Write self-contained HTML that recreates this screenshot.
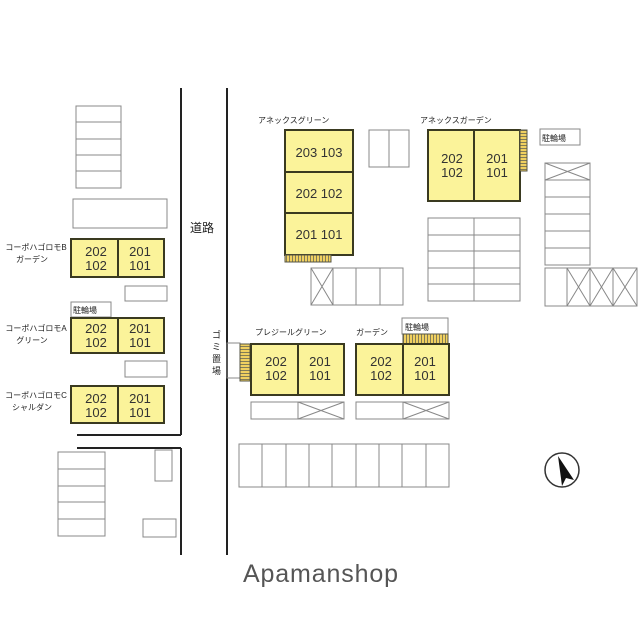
<!DOCTYPE html>
<html><head><meta charset="utf-8"><style>
body{margin:0;background:#fff}
svg{display:block}
text{font-family:"Liberation Sans","Noto Sans CJK JP",sans-serif}
.j{font-size:8px;fill:#222}
.n{font-size:13px;fill:#333}
.b{fill:#fbf39a;stroke:#3a3a20;stroke-width:2}
.g{fill:none;stroke:#888;stroke-width:1}
</style></head><body>
<svg width="640" height="640" viewBox="0 0 640 640" xmlns="http://www.w3.org/2000/svg">
<defs>
<pattern id="hv" width="3" height="3" patternUnits="userSpaceOnUse"><rect width="3" height="3" fill="#f0d060"/><line x1="1.5" y1="0" x2="1.5" y2="3" stroke="#665" stroke-width="0.8"/></pattern>
<pattern id="hh" width="3" height="3" patternUnits="userSpaceOnUse"><rect width="3" height="3" fill="#f0d060"/><line x1="0" y1="1.5" x2="3" y2="1.5" stroke="#665" stroke-width="0.8"/></pattern>
</defs>
<rect width="640" height="640" fill="#fff"/>
<g stroke="#222" stroke-width="2">
<line x1="181" y1="88" x2="181" y2="435"/>
<line x1="181" y1="448" x2="181" y2="555"/>
<line x1="77" y1="435" x2="181" y2="435"/>
<line x1="77" y1="448" x2="181" y2="448"/>
<line x1="227" y1="88" x2="227" y2="555"/>
</g>
<text x="190" y="232" style="font-size:12px;fill:#222">道路</text>
<g style="font-size:9px;fill:#222"><text x="212" y="338">ゴ</text><text x="212" y="350">ミ</text><text x="212" y="362">置</text><text x="212" y="374">場</text></g>
<g class="g"><rect x="76" y="106" width="45" height="82"/>
<line x1="76" y1="122" x2="121" y2="122"/><line x1="76" y1="139" x2="121" y2="139"/><line x1="76" y1="155" x2="121" y2="155"/><line x1="76" y1="171" x2="121" y2="171"/>
<rect x="73" y="199" width="94" height="29"/>
<rect x="125" y="286" width="42" height="15"/>
<rect x="71" y="302" width="40" height="15"/>
<rect x="125" y="361" width="42" height="16"/>
<rect x="58" y="452" width="47" height="84"/>
<line x1="58" y1="469" x2="105" y2="469"/><line x1="58" y1="486" x2="105" y2="486"/><line x1="58" y1="502" x2="105" y2="502"/><line x1="58" y1="519" x2="105" y2="519"/>
<rect x="155" y="450" width="17" height="31"/>
<rect x="143" y="519" width="33" height="18"/>
</g>
<text x="73" y="313" class="j">駐輪場</text>
<rect class="b" x="71" y="239" width="93" height="38"/><line x1="118" y1="239" x2="118" y2="277" stroke="#3a3a20" stroke-width="2"/>
<rect class="b" x="71" y="318" width="93" height="35"/><line x1="118" y1="318" x2="118" y2="353" stroke="#3a3a20" stroke-width="2"/>
<rect class="b" x="71" y="386" width="93" height="37"/><line x1="118" y1="386" x2="118" y2="423" stroke="#3a3a20" stroke-width="2"/>
<g class="n" text-anchor="middle">
<text x="96" y="256">202</text><text x="96" y="270">102</text><text x="140" y="256">201</text><text x="140" y="270">101</text>
<text x="96" y="333">202</text><text x="96" y="347">102</text><text x="140" y="333">201</text><text x="140" y="347">101</text>
<text x="96" y="403">202</text><text x="96" y="417">102</text><text x="140" y="403">201</text><text x="140" y="417">101</text>
</g>
<g class="j" text-anchor="middle">
<text x="36" y="250">コーポハゴロモB</text><text x="32" y="262">ガーデン</text>
<text x="36" y="331">コーポハゴロモA</text><text x="32" y="343">グリーン</text>
<text x="36" y="398">コーポハゴロモC</text><text x="32" y="410">シャルダン</text>
</g>
<text x="258" y="123" class="j">アネックスグリーン</text>
<rect class="b" x="285" y="130" width="68" height="125"/>
<line x1="285" y1="172" x2="353" y2="172" stroke="#3a3a20" stroke-width="2"/><line x1="285" y1="213" x2="353" y2="213" stroke="#3a3a20" stroke-width="2"/>
<rect x="285" y="255" width="46" height="7" fill="url(#hv)" stroke="#554" stroke-width="1"/>
<g class="n" text-anchor="middle"><text x="319" y="157">203 103</text><text x="319" y="198">202 102</text><text x="319" y="239">201 101</text></g>
<g class="g"><rect x="369" y="130" width="40" height="37"/><line x1="389" y1="130" x2="389" y2="167"/>
<rect x="311" y="268" width="92" height="37"/><line x1="333" y1="268" x2="333" y2="305"/><line x1="356" y1="268" x2="356" y2="305"/><line x1="380" y1="268" x2="380" y2="305"/>
<path d="M311 268L333 305M333 268L311 305"/>
</g>
<text x="420" y="123" class="j">アネックスガーデン</text>
<rect class="b" x="428" y="130" width="92" height="71"/><line x1="474" y1="130" x2="474" y2="201" stroke="#3a3a20" stroke-width="2"/>
<rect x="520" y="130" width="7" height="41" fill="url(#hh)" stroke="#554" stroke-width="1"/>
<g class="n" text-anchor="middle"><text x="452" y="163">202</text><text x="452" y="177">102</text><text x="497" y="163">201</text><text x="497" y="177">101</text></g>
<g class="g"><rect x="540" y="129" width="40" height="16"/>
<rect x="545" y="163" width="45" height="102"/><path d="M545 180H590M545 197H590M545 214H590M545 231H590M545 248H590M545 163L590 180M590 163L545 180"/>
<rect x="428" y="218" width="92" height="83"/><path d="M474 218V301M428 235H520M428 251H520M428 268H520M428 284H520"/>
<rect x="545" y="268" width="92" height="38"/><path d="M567 268V306M590 268V306M613 268V306M567 268L590 306M590 268L567 306M590 268L613 306M613 268L590 306M613 268L637 306M637 268L613 306"/>
</g>
<text x="542" y="141" class="j">駐輪場</text>
<rect class="g" x="227" y="343" width="13" height="35"/>
<rect x="240" y="344" width="10" height="37" fill="url(#hh)" stroke="#554" stroke-width="1"/>
<text x="255" y="335" class="j">プレジールグリーン</text>
<rect class="b" x="251" y="344" width="93" height="51"/><line x1="298" y1="344" x2="298" y2="395" stroke="#3a3a20" stroke-width="2"/>
<text x="356" y="335" class="j">ガーデン</text>
<rect class="g" x="402" y="318" width="46" height="16"/><text x="405" y="330" class="j">駐輪場</text>
<rect x="403" y="334" width="45" height="10" fill="url(#hv)" stroke="#554" stroke-width="1"/>
<rect class="b" x="356" y="344" width="93" height="51"/><line x1="403" y1="344" x2="403" y2="395" stroke="#3a3a20" stroke-width="2"/>
<g class="n" text-anchor="middle">
<text x="276" y="366">202</text><text x="276" y="380">102</text><text x="320" y="366">201</text><text x="320" y="380">101</text>
<text x="381" y="366">202</text><text x="381" y="380">102</text><text x="425" y="366">201</text><text x="425" y="380">101</text>
</g>
<g class="g">
<rect x="251" y="402" width="93" height="17"/><path d="M298 402V419M298 402L344 419M344 402L298 419"/>
<rect x="356" y="402" width="93" height="17"/><path d="M403 402V419M403 402L449 419M449 402L403 419"/>
<rect x="239" y="444" width="210" height="43"/>
<path d="M262 444V487M286 444V487M309 444V487M332 444V487M356 444V487M379 444V487M402 444V487M426 444V487"/>
</g>
<circle cx="562" cy="470" r="17" fill="none" stroke="#333" stroke-width="1.5"/>
<path d="M558 456L574 480L566 478L562 486Z" fill="#111"/>
<text x="243" y="582" textLength="155" style="font-size:25px;fill:#555">Apamanshop</text>
</svg>
</body></html>
